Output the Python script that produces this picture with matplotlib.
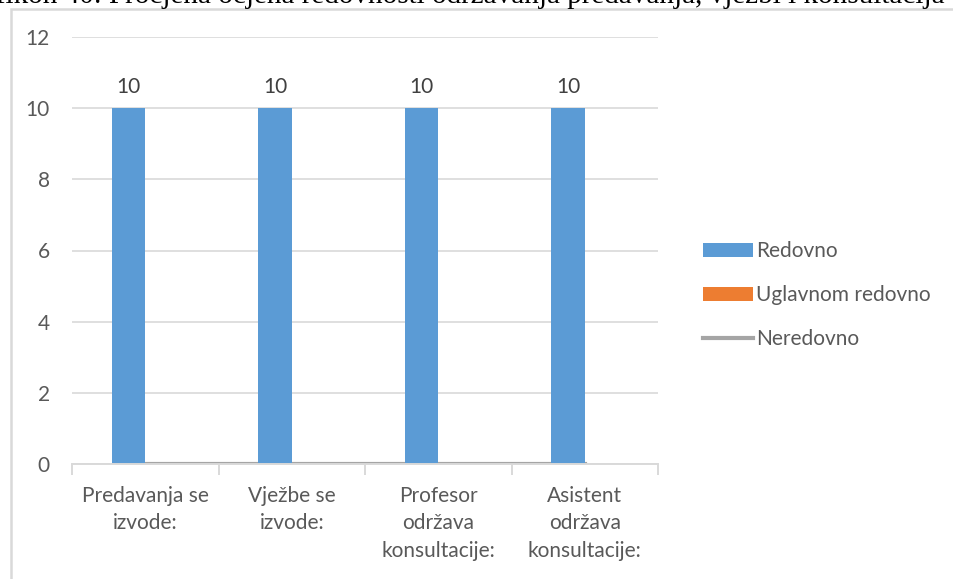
import matplotlib.pyplot as plt
import numpy as np
from matplotlib.patches import Rectangle

categories = ["Predavanja se\nizvode:", "Vježbe se\nizvode:",
              "Profesor\nodržava\nkonsultacije:", "Asistent\nodržava\nkonsultacije:"]
redovno = [10, 10, 10, 10]
uglavnom = [0, 0, 0, 0]
neredovno = [0, 0, 0, 0]
series_names = ["Redovno", "Uglavnom redovno", "Neredovno"]
caption = "Grafikon 40: Procjena ocjena redovnosti održavanja predavanja, vježbi i konsultacija"

txt = "#595959"
plt.rcParams['font.family'] = ['Lato', 'DejaVu Sans']

fig = plt.figure(figsize=(9.54, 5.79), dpi=100)
# outer chart border
fig.patches.append(Rectangle((11 / 954, -0.05), 1.0, 1 - 9 / 579 + 0.05,
                             transform=fig.transFigure, fill=False,
                             edgecolor="#D9D9D9", linewidth=1.8))
# caption cut off at the top, like in the source document
fig.text(-0.05, 1 - 3 / 579, caption, family="Liberation Serif", fontsize=21,
         va="baseline", ha="left", color="black")

ax = fig.add_axes([72 / 954, 1 - 464 / 579, 586 / 954, 427 / 579])
x = np.arange(len(categories))
bw = 0.23
b1 = ax.bar(x - bw / 2, redovno, bw, color="#5B9BD5", zorder=3)
b2 = ax.bar(x + bw / 2, uglavnom, bw, color="#ED7D31", zorder=3)
l3, = ax.plot(x, neredovno, color="#A5A5A5", linewidth=3, zorder=2)

for rect, v in zip(b1, redovno):
    ax.text(rect.get_x() + rect.get_width() / 2, v + 0.3, str(v), ha="center",
            va="bottom", fontsize=15, color="#404040")

ax.set_xlim(-0.5, len(categories) - 0.5)
ax.set_ylim(0, 12)
ax.set_yticks(range(0, 13, 2))
ax.grid(axis="y", color="#D9D9D9", linewidth=1.2, zorder=0)
for s in ["top", "right", "left"]:
    ax.spines[s].set_visible(False)
ax.spines["bottom"].set_color("#D9D9D9")
ax.spines["bottom"].set_linewidth(1.4)
ax.spines["bottom"].set_zorder(4)

ax.set_xticks(x)
ax.set_xticklabels(categories, fontsize=15, color=txt, linespacing=1.45)
ax.set_xticks(np.arange(-0.5, len(categories)), minor=True)
ax.tick_params(axis="x", which="major", length=0, pad=16)
ax.tick_params(axis="x", which="minor", length=8, color="#D9D9D9", width=1.4)
ax.tick_params(axis="y", length=0, labelsize=15, labelcolor=txt, pad=16)

ax.legend([b1, b2, l3], series_names, loc="center left",
          bbox_to_anchor=(1.045, 0.395), frameon=False,
          fontsize=15, labelcolor=txt, handlelength=2.4, handleheight=0.7,
          labelspacing=1.15, handletextpad=0.15)

fig.savefig("out.png", dpi=100)
